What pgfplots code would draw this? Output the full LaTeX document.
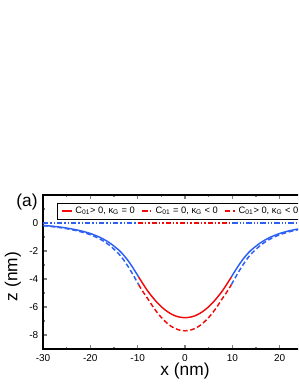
\documentclass[border=0pt]{standalone}
\usepackage{fontspec}
\setmainfont{Liberation Sans}
\usepackage{pgfplots}
\pgfplotsset{compat=1.18}
\definecolor{cblue}{RGB}{45,95,245}
\definecolor{cred}{RGB}{240,10,10}
\begin{document}
\begin{tikzpicture}
\path[use as bounding box] (0pt,0pt) rectangle (223.5pt,288.75pt);
\clip (0pt,0pt) rectangle (223.5pt,288.75pt);
\begin{axis}[
  at={(32.25pt,27pt)}, anchor=south west,
  scale only axis, width=213pt, height=115.5pt,
  xmin=-30, xmax=30, ymin=-9, ymax=2,
  xtick={-30,-20,...,30}, minor x tick num=1,
  ytick={-8,-6,-4,-2,0}, minor ytick={-9,-7,-5,-3,-1,1},
  tick align=inside,
  major tick length=3pt, minor tick length=1.8pt,
  axis line style={line width=0.9pt},
  tick style={line width=0.8pt},
  /pgf/number format/assume math mode=true,
  tick label style={font=\fontsize{7.5}{9}\selectfont},
  xticklabel style={yshift=-0.5pt},
  xlabel={x (nm)}, ylabel={z (nm)},
  label style={font=\fontsize{13}{15}\selectfont},
  xlabel style={at={(axis description cs:0.5,0)}, anchor=north, inner sep=0pt, yshift=-10.5pt},
  ylabel style={at={(axis description cs:-0.106,0.47)}, anchor=center, inner sep=0pt},
  legend style={at={(axis description cs:0.049,0.95)}, anchor=north west,
    legend columns=3, font=\fontsize{7}{8}\selectfont,
    inner xsep=3pt, inner ysep=1pt, row sep=0pt,
    /tikz/every even column/.append style={column sep=3pt}},
  legend image code/.code={\draw[mark repeat=2,mark phase=2,#1] plot coordinates {(0pt,0pt) (7.5pt,0pt)};},
  clip=true,
]
% red parts first (these carry the legend)
\addplot[cred, line width=1.1pt, smooth] table {
x y
-9.8 -3.85
-9 -4.28
-8 -4.8
-7 -5.24
-6 -5.64
-5 -5.98
-4 -6.26
-3 -6.48
-2 -6.64
-1 -6.73
0 -6.76
1 -6.73
2 -6.64
3 -6.48
4 -6.26
5 -5.98
6 -5.64
7 -5.24
8 -4.8
9 -4.28
9.8 -3.85
};
\addlegendentry{C\textsubscript{01}> 0, κ\textsubscript{G} = 0}
\addplot[cred, line width=1.1pt, dash pattern=on 4pt off 1.5pt on 1pt off 1.5pt on 1pt off 1.5pt] coordinates {(-10,0) (10,0)};
\addlegendentry{C\textsubscript{01} = 0, κ\textsubscript{G} < 0}
\addplot[cred, line width=1.1pt, smooth, dash pattern=on 3.5pt off 2pt] table {
x y
-9.8 -4.4
-9 -4.85
-8 -5.34
-7 -5.86
-6 -6.34
-5 -6.75
-4 -7.09
-3 -7.36
-2 -7.55
-1 -7.66
0 -7.7
1 -7.66
2 -7.55
3 -7.36
4 -7.09
5 -6.75
6 -6.34
7 -5.86
8 -5.34
9 -4.85
9.8 -4.4
};
\addlegendentry{C\textsubscript{01}> 0, κ\textsubscript{G} < 0}

% blue parts of flat line z=0
\addplot[cblue, line width=1.1pt, dash pattern=on 4pt off 1.5pt on 1pt off 1.5pt on 1pt off 1.5pt, forget plot] coordinates {(-30,0) (-10,0)};
\addplot[cblue, line width=1.1pt, dash pattern=on 4pt off 1.5pt on 1pt off 1.5pt on 1pt off 1.5pt, forget plot] coordinates {(10,0) (30,0)};

% blue parts of solid curve
\addplot[cblue, line width=1.1pt, smooth, forget plot] table {
x y
-30 -0.17
-28 -0.23
-26 -0.31
-24 -0.42
-22 -0.56
-20 -0.75
-18 -1.02
-16 -1.4
-14 -1.93
-13 -2.28
-12 -2.7
-11 -3.2
-10 -3.74
-9.8 -3.85
};
\addplot[cblue, line width=1.1pt, smooth, forget plot] table {
x y
9.8 -3.85
10 -3.74
11 -3.2
12 -2.7
13 -2.28
14 -1.93
16 -1.4
18 -1.02
20 -0.75
22 -0.56
24 -0.42
26 -0.31
28 -0.23
30 -0.17
};

% blue parts of dashed curve
\addplot[cblue, line width=1.1pt, smooth, dash pattern=on 3.5pt off 2pt, forget plot] table {
x y
-30 -0.19
-28 -0.26
-26 -0.35
-24 -0.47
-22 -0.63
-20 -0.84
-18 -1.14
-16 -1.58
-14 -2.2
-13 -2.62
-12 -3.12
-11 -3.68
-10 -4.28
-9.8 -4.4
};
\addplot[cblue, line width=1.1pt, smooth, dash pattern=on 3.5pt off 2pt, forget plot] table {
x y
9.8 -4.4
10 -4.28
11 -3.68
12 -3.12
13 -2.62
14 -2.2
16 -1.58
18 -1.14
20 -0.84
22 -0.63
24 -0.47
26 -0.35
28 -0.26
30 -0.19
};
\end{axis}
\node[font=\fontsize{13}{15}\selectfont, inner sep=0pt] at (20.25pt,137.25pt) {(a)};
\end{tikzpicture}
\end{document}
